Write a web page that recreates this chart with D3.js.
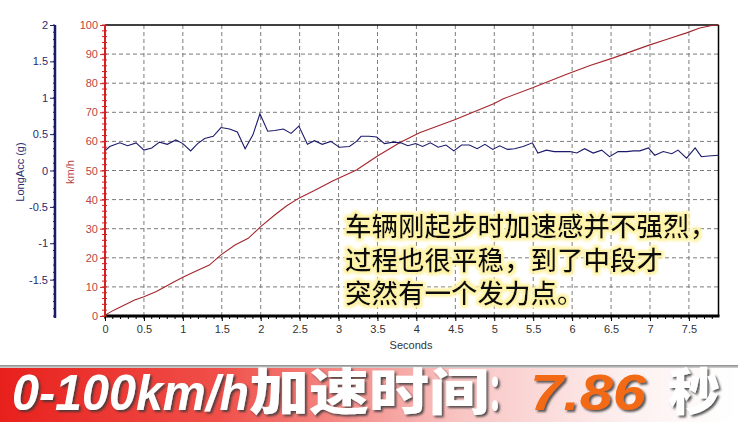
<!DOCTYPE html>
<html><head><meta charset="utf-8">
<script src="https://cdn.jsdelivr.net/npm/d3@7/dist/d3.min.js"></script>
<style>
html,body{margin:0;padding:0;background:#fff;}
svg{display:block;}
</style></head>
<body>
<svg id="chart" width="738" height="422"></svg>
<script>
// ---------- DATA ----------
const xTicks = [0,0.5,1,1.5,2,2.5,3,3.5,4,4.5,5,5.5,6,6.5,7,7.5];
const speedTicks = [0,10,20,30,40,50,60,70,80,90,100];
const accTicks = [-1.5,-1,-0.5,0,0.5,1,1.5,2];

const accTime = [0,0.06,0.19,0.29,0.40,0.50,0.60,0.70,0.80,0.91,1.00,1.10,1.19,1.28,1.39,1.49,1.60,1.70,1.80,1.90,1.99,2.09,2.18,2.29,2.39,2.49,2.60,2.69,2.79,2.90,3.01,3.14,3.23,3.29,3.39,3.49,3.59,3.70,3.80,3.89,3.99,4.08,4.18,4.28,4.38,4.48,4.58,4.68,4.78,4.88,4.98,5.07,5.17,5.26,5.37,5.49,5.56,5.67,5.77,5.87,5.97,6.06,6.16,6.27,6.38,6.48,6.59,6.70,6.79,6.87,6.98,7.06,7.17,7.28,7.36,7.47,7.58,7.66,7.75,7.88];
const accG = [0.27,0.33,0.38,0.34,0.38,0.28,0.31,0.39,0.36,0.42,0.37,0.27,0.37,0.44,0.47,0.59,0.57,0.53,0.30,0.49,0.78,0.54,0.55,0.57,0.51,0.61,0.36,0.41,0.36,0.40,0.32,0.33,0.40,0.47,0.47,0.46,0.37,0.39,0.38,0.34,0.37,0.33,0.38,0.32,0.35,0.27,0.35,0.35,0.30,0.36,0.29,0.34,0.29,0.30,0.33,0.38,0.24,0.28,0.26,0.26,0.26,0.24,0.30,0.24,0.28,0.19,0.26,0.26,0.27,0.27,0.31,0.21,0.26,0.23,0.28,0.17,0.31,0.19,0.20,0.21];

const speedTime = [0,0.12,0.38,0.5,0.66,0.89,1.0,1.15,1.34,1.49,1.67,1.84,2.0,2.18,2.33,2.49,2.69,2.93,3.23,3.5,3.79,4.04,4.5,5.0,5.11,5.5,5.93,6.23,6.53,6.98,7.21,7.47,7.64,7.81,7.88];
const speedKmh = [0.3,2.1,5.5,6.6,8.4,11.8,13.3,15.2,17.5,21,24.4,26.7,30.7,34.7,37.8,40.5,43.1,46.5,50.2,55,59.6,63,67.5,73,74.6,78.5,83.1,86.1,88.7,93,95,97.3,99,99.9,100];

const noteLines = ["车辆刚起步时加速感并不强烈，","过程也很平稳，到了中段才","突然有一个发力点。"];
const bannerParts = ["0-100km/h","加速时间","：","7.86","秒"];

// ---------- LAYOUT ----------
const svg = d3.select("#chart");
const L = 105, R = 718.5, T = 25, B = 316;
const x = d3.scaleLinear().domain([0,7.88]).range([L,R]);
const ySpd = d3.scaleLinear().domain([0,100]).range([B,T]);
const yAcc = d3.scaleLinear().domain([-2,2]).range([B,T]);

const defs = svg.append("defs");
const glow = defs.append("filter").attr("id","glow").attr("x","-10%").attr("y","-30%").attr("width","120%").attr("height","160%");
glow.append("feMorphology").attr("in","SourceAlpha").attr("operator","dilate").attr("radius",1.6).attr("result","d");
glow.append("feGaussianBlur").attr("in","d").attr("stdDeviation",1.6).attr("result","b");
glow.append("feFlood").attr("flood-color","#fff3a8");
glow.append("feComposite").attr("in2","b").attr("operator","in").attr("result","g");
const gm = glow.append("feMerge");
gm.append("feMergeNode").attr("in","g");
gm.append("feMergeNode").attr("in","g");
gm.append("feMergeNode").attr("in","SourceGraphic");

const shadow = defs.append("filter").attr("id","shadow").attr("x","-10%").attr("y","-20%").attr("width","130%").attr("height","150%");
shadow.append("feDropShadow").attr("dx",2).attr("dy",2).attr("stdDeviation",1.2).attr("flood-color","#3a3a3a").attr("flood-opacity",0.85);

const grad = defs.append("linearGradient").attr("id","bannerGrad").attr("x1",0).attr("x2",1).attr("y1",0).attr("y2",0);
grad.append("stop").attr("offset","0%").attr("stop-color","#e8201c");
grad.append("stop").attr("offset","30%").attr("stop-color","#f0504a");
grad.append("stop").attr("offset","62%").attr("stop-color","#f8c4c2");
grad.append("stop").attr("offset","85%").attr("stop-color","#fdf0f0");
grad.append("stop").attr("offset","100%").attr("stop-color","#ffffff");
const gradV = defs.append("linearGradient").attr("id","bannerTop").attr("x1",0).attr("x2",0).attr("y1",0).attr("y2",1);
gradV.append("stop").attr("offset","0%").attr("stop-color","#8a8a8a");
gradV.append("stop").attr("offset","100%").attr("stop-color","#d8d8d8");

// ---------- GRID ----------
const grid = svg.append("g");
grid.selectAll("line.v").data(xTicks.filter(d=>d>0)).join("line")
  .attr("x1",d=>x(d)).attr("x2",d=>x(d)).attr("y1",T).attr("y2",B)
  .attr("stroke","#7c7c7c").attr("stroke-width",1).attr("stroke-dasharray","4,3");
grid.selectAll("line.h").data(speedTicks.filter(d=>d>0&&d<100)).join("line")
  .attr("x1",L).attr("x2",R).attr("y1",d=>ySpd(d)).attr("y2",d=>ySpd(d))
  .attr("stroke","#7c7c7c").attr("stroke-width",1).attr("stroke-dasharray","4,3");

// frame
svg.append("line").attr("x1",L).attr("x2",R).attr("y1",T).attr("y2",T).attr("stroke","#000").attr("stroke-width",1.5);
svg.append("line").attr("x1",R).attr("x2",R).attr("y1",T).attr("y2",B).attr("stroke","#000").attr("stroke-width",1.5);

// ---------- NOTE TEXT ----------
const note = svg.append("g").attr("filter","url(#glow)");
note.selectAll("text").data(noteLines).join("text")
  .attr("x",345).attr("y",(d,i)=>236+i*33.5)
  .attr("font-family","'Noto Sans CJK SC'").attr("font-size",26.5).attr("font-weight",500)
  .attr("fill","#111").text(d=>d);

// ---------- LINES ----------
const accData = accTime.map((t,i)=>[t,accG[i]]);
const spdData = speedTime.map((t,i)=>[t,speedKmh[i]]);
svg.append("path").datum(spdData)
  .attr("d",d3.line().x(d=>x(d[0])).y(d=>ySpd(d[1])))
  .attr("fill","none").attr("stroke","#a3262c").attr("stroke-width",1.1);
svg.append("path").datum(accData)
  .attr("d",d3.line().x(d=>x(d[0])).y(d=>yAcc(d[1])))
  .attr("fill","none").attr("stroke","#1a1a6a").attr("stroke-width",1.1);

// ---------- AXES ----------
const fmt = d=>String(d);
// x axis
const xa = svg.append("g").attr("transform",`translate(0,${B})`)
  .call(d3.axisBottom(x).tickValues(xTicks).tickSize(5).tickPadding(4).tickFormat(fmt));
xa.select(".domain").remove();
xa.selectAll(".tick line").attr("stroke","#000");
xa.selectAll("text").attr("font-family","'Liberation Sans',Arial,sans-serif").attr("font-size",11).attr("fill","#333");
svg.append("g").selectAll("line").data(d3.range(0,7.9,0.1)).join("line")
  .attr("x1",d=>x(d)).attr("x2",d=>x(d)).attr("y1",B).attr("y2",B+3).attr("stroke","#000").attr("stroke-width",1);
svg.append("line").attr("x1",L-1).attr("x2",R+1).attr("y1",B).attr("y2",B).attr("stroke","#000").attr("stroke-width",3);
svg.append("text").attr("x",411).attr("y",349).attr("text-anchor","middle")
  .attr("font-family","'Liberation Sans',Arial,sans-serif").attr("font-size",11).attr("fill","#333").text("Seconds");

// speed axis (red)
const ra = svg.append("g").attr("transform",`translate(${L},0)`)
  .call(d3.axisLeft(ySpd).tickValues(speedTicks).tickSize(5).tickPadding(2).tickFormat(fmt));
ra.select(".domain").remove();
ra.selectAll(".tick line").attr("stroke","#c02828");
ra.selectAll("text").attr("font-family","'Liberation Sans',Arial,sans-serif").attr("font-size",11).attr("fill","#b84545");
svg.append("g").selectAll("line").data(d3.range(0,101,2)).join("line")
  .attr("x1",L-3).attr("x2",L+2).attr("y1",d=>ySpd(d)).attr("y2",d=>ySpd(d)).attr("stroke","#d02020").attr("stroke-width",1);
svg.append("line").attr("x1",L).attr("x2",L).attr("y1",T).attr("y2",B).attr("stroke","#d42020").attr("stroke-width",2);
svg.append("text").attr("transform",`translate(74,172) rotate(-90)`).attr("text-anchor","middle")
  .attr("font-family","'Liberation Sans',Arial,sans-serif").attr("font-size",11).attr("fill","#b84545").text("km/h");

// acc axis (blue)
const AX = 55;
const ba = svg.append("g").attr("transform",`translate(${AX},0)`)
  .call(d3.axisLeft(yAcc).tickValues(accTicks).tickSize(5).tickPadding(2).tickFormat(fmt));
ba.select(".domain").remove();
ba.selectAll(".tick line").attr("stroke","#1a1a6a");
ba.selectAll("text").attr("font-family","'Liberation Sans',Arial,sans-serif").attr("font-size",11).attr("fill","#2b2b70");
svg.append("g").selectAll("line").data(d3.range(-2,2.01,0.1)).join("line")
  .attr("x1",AX-2).attr("x2",AX).attr("y1",d=>yAcc(d)).attr("y2",d=>yAcc(d)).attr("stroke","#1a1a6a").attr("stroke-width",1);
svg.append("line").attr("x1",AX).attr("x2",AX).attr("y1",T).attr("y2",B+2).attr("stroke","#1a1a6a").attr("stroke-width",2.5);
svg.append("text").attr("transform",`translate(24,172) rotate(-90)`).attr("text-anchor","middle")
  .attr("font-family","'Liberation Sans',Arial,sans-serif").attr("font-size",11).attr("fill","#2b2b70").text("LongAcc (g)");

// ---------- BANNER ----------
svg.append("rect").attr("x",0).attr("y",365).attr("width",738).attr("height",3).attr("fill","url(#bannerTop)");
svg.append("rect").attr("x",0).attr("y",368).attr("width",738).attr("height",54).attr("fill","url(#bannerGrad)");
const bx = [12,249,488,530,668];
const bw = [237,240,28,116,52];
const bcol = ["#fff","#fff","#fff","#f26a12","#fff"];
const bfont = ["'Liberation Sans',Arial,sans-serif","'Noto Sans CJK SC'","'Noto Sans CJK SC'","'Liberation Sans',Arial,sans-serif","'Noto Sans CJK SC'"];
const bsize = [50,50,50,50,50];
const banner = svg.append("g").attr("filter","url(#shadow)");
banner.selectAll("text").data(bannerParts).join("text")
  .attr("x",(d,i)=>bx[i]).attr("y",410)
  .attr("font-family",(d,i)=>bfont[i]).attr("font-size",(d,i)=>bsize[i])
  .attr("font-weight",900).attr("font-style",(d,i)=>i===0||i===3?"italic":"normal")
  .attr("textLength",(d,i)=>bw[i]).attr("lengthAdjust","spacingAndGlyphs")
  .attr("fill",(d,i)=>bcol[i]).text(d=>d);
</script>
</body></html>
